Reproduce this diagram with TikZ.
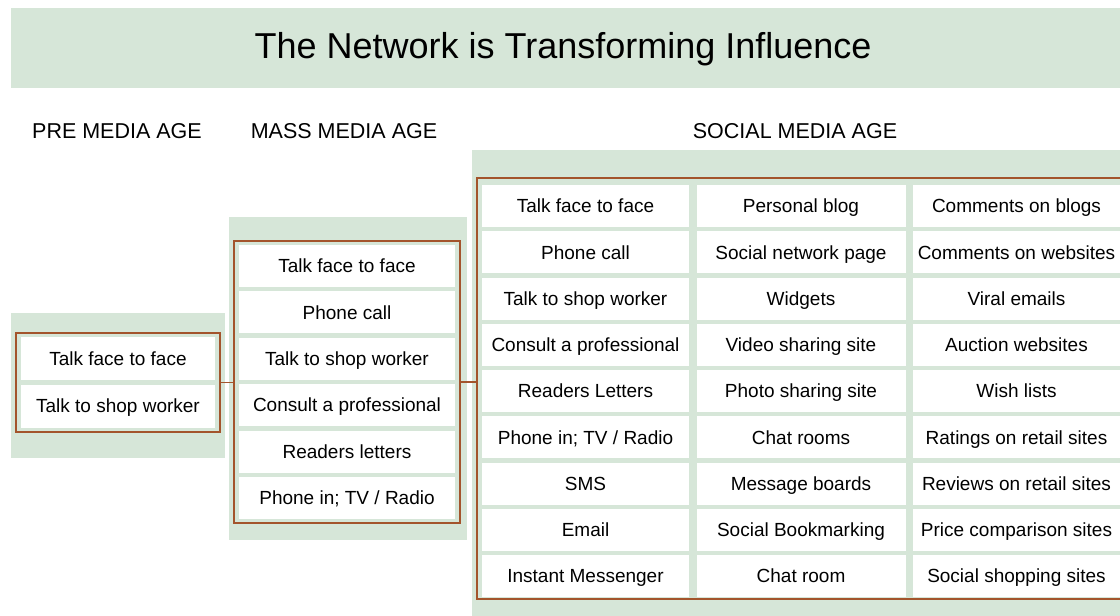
\documentclass[tikz,border=0pt]{standalone}
\usepackage{fontspec}
\setmainfont{Liberation Sans}
\definecolor{bggreen}{RGB}{214,230,216}
\definecolor{framebrown}{RGB}{163,84,44}
\begin{document}
\begin{tikzpicture}[x=1pt,y=-1pt,
  cell/.style={fill=white,inner sep=0pt,minimum height=42pt,text height=13.5pt,text depth=0pt,font=\fontsize{19}{21}\selectfont},
  precell/.style={cell,minimum width=194pt,minimum height=43pt},
  masscell/.style={cell,minimum width=216pt},
  soccell/.style={cell,minimum width=207pt},
  frame/.style={draw=framebrown,line width=1.5pt,fill=bggreen,inner sep=0pt},
  age/.style={anchor=base,font=\fontsize{21.5}{24}\selectfont},
  link/.style={draw=framebrown,line width=1.5pt}]
\useasboundingbox (0,0) rectangle (1120,616);
\clip (0,0) rectangle (1120,616);

% title band
\fill[bggreen] (11,8) rectangle (1130,88);
\node[anchor=base,font=\fontsize{36}{40}\selectfont] (title) at (563,58) {The Network is Transforming Influence};

% ages
\node[age] (preage) at (117,138) {PRE MEDIA AGE};
\node[age] (massage) at (344,138) {MASS MEDIA AGE};
\node[age] (socage) at (795,138) {SOCIAL MEDIA AGE};

% green backgrounds
\fill[bggreen] (11,313) rectangle (225,458);
\fill[bggreen] (229,217) rectangle (467,540);
\fill[bggreen] (472,150) rectangle (1130,620);

% frames
\node[frame,minimum width=204pt,minimum height=99pt] (pre) at (118,382.5) {};
\node[frame,minimum width=226pt,minimum height=282pt] (mass) at (347,382) {};
\node[frame,minimum width=663pt,minimum height=421pt] (social) at (808.5,388.5) {};

% pre media age
\node[precell] (pre1) at (118,358.5) {Talk face to face};
\node[precell] (pre2) at (118,406) {Talk to shop worker};

% mass media age
\node[masscell] (mass1) at (347,266) {Talk face to face};
\node[masscell] (mass2) at (347,312.4) {Phone call};
\node[masscell] (mass3) at (347,358.8) {Talk to shop worker};
\node[masscell] (mass4) at (347,405.2) {Consult a professional};
\node[masscell] (mass5) at (347,451.6) {Readers letters};
\node[masscell] (mass6) at (347,498) {Phone in; TV / Radio};

% social media age
\node[soccell] (soc11) at (585.5,206) {Talk face to face};
\node[soccell] (soc12) at (585.5,252.3) {Phone call};
\node[soccell] (soc13) at (585.5,298.5) {Talk to shop worker};
\node[soccell] (soc14) at (585.5,344.8) {Consult a professional};
\node[soccell] (soc15) at (585.5,391) {Readers Letters};
\node[soccell] (soc16) at (585.5,437.3) {Phone in; TV / Radio};
\node[soccell] (soc17) at (585.5,483.5) {SMS};
\node[soccell] (soc18) at (585.5,529.8) {Email};
\node[soccell] (soc19) at (585.5,576) {Instant Messenger};

\node[soccell,minimum width=209pt] (soc21) at (801,206) {Personal blog};
\node[soccell,minimum width=209pt] (soc22) at (801,252.3) {Social network page};
\node[soccell,minimum width=209pt] (soc23) at (801,298.5) {Widgets};
\node[soccell,minimum width=209pt] (soc24) at (801,344.8) {Video sharing site};
\node[soccell,minimum width=209pt] (soc25) at (801,391) {Photo sharing site};
\node[soccell,minimum width=209pt] (soc26) at (801,437.3) {Chat rooms};
\node[soccell,minimum width=209pt] (soc27) at (801,483.5) {Message boards};
\node[soccell,minimum width=209pt] (soc28) at (801,529.8) {Social Bookmarking};
\node[soccell,minimum width=209pt] (soc29) at (801,576) {Chat room};

\node[soccell] (soc31) at (1016.5,206) {Comments on blogs};
\node[soccell] (soc32) at (1016.5,252.3) {Comments on websites};
\node[soccell] (soc33) at (1016.5,298.5) {Viral emails};
\node[soccell] (soc34) at (1016.5,344.8) {Auction websites};
\node[soccell] (soc35) at (1016.5,391) {Wish lists};
\node[soccell] (soc36) at (1016.5,437.3) {Ratings on retail sites};
\node[soccell] (soc37) at (1016.5,483.5) {Reviews on retail sites};
\node[soccell] (soc38) at (1016.5,529.8) {Price comparison sites};
\node[soccell] (soc39) at (1016.5,576) {Social shopping sites};

% links between ages
\path[link] (pre.east) -- (pre.east -| mass.west);
\path[link] (mass.east) -- (mass.east -| social.west);
\end{tikzpicture}
\end{document}
